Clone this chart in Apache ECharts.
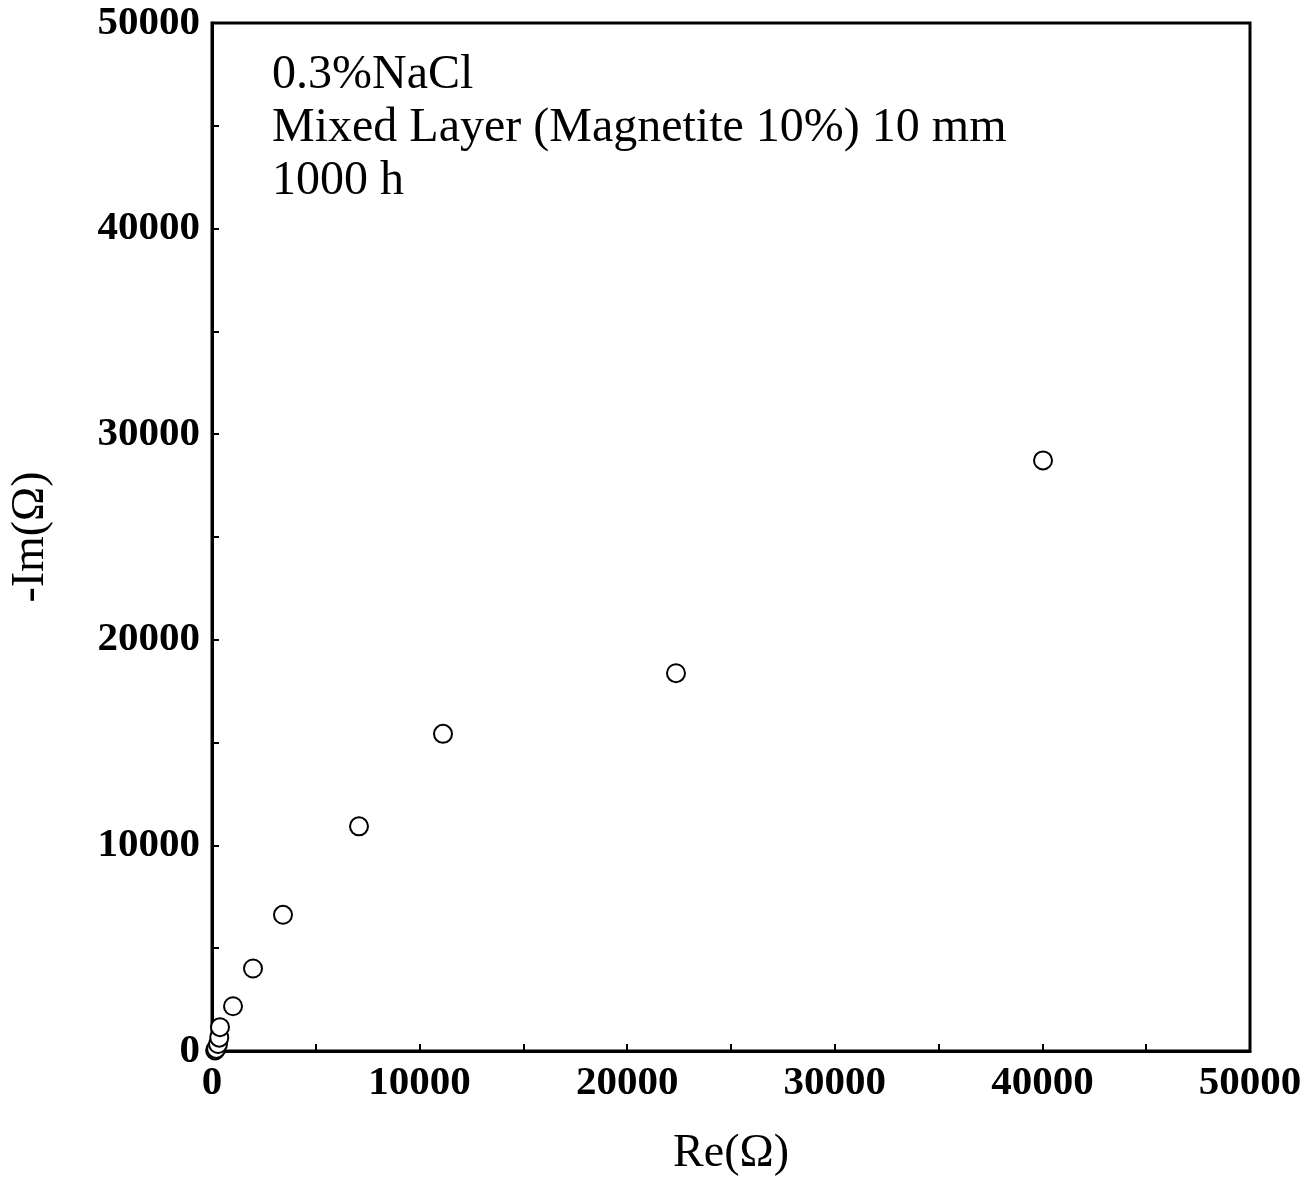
<!DOCTYPE html>
<html><head><meta charset="utf-8">
<script src="https://cdn.jsdelivr.net/npm/echarts@6/dist/echarts.min.js"></script>
<style>html,body{margin:0;padding:0;background:#fff}#c{width:1310px;height:1182px}</style>
</head><body><div id="c"></div>
<script>
const reValues = [150, 200, 290, 350, 385, 1012, 1975, 3420, 7081, 11127, 22350, 40030];
const imValues = [30, 100, 340, 650, 1160, 2176, 4014, 6625, 10928, 15425, 18375, 28725];
const annotation = ['0.3%NaCl', 'Mixed Layer (Magnetite 10%) 10 mm', '1000 h'];
const xName = 'Re(Ω)';
const yName = '-Im(Ω)';

const chart = echarts.init(document.getElementById('c'));
const fmt = v => (v % 10000 === 0 ? String(v) : '');
const serif = '"Liberation Serif", "DejaVu Serif", serif';
chart.setOption({
  animation: false,
  grid: {left: 212, top: 23, right: 60, bottom: 125, show: true, borderColor: '#000', borderWidth: 3},
  xAxis: {
    type: 'value', min: 0, max: 50000, interval: 5000,
    name: xName, nameLocation: 'middle', nameGap: 80,
    nameTextStyle: {fontFamily: serif, fontSize: 46, color: '#000'},
    axisLine: {lineStyle: {color: '#000', width: 3}},
    axisTick: {inside: true, length: 7, lineStyle: {color: '#000', width: 2}},
    axisLabel: {formatter: fmt, fontFamily: serif, fontWeight: 'bold', fontSize: 41, color: '#000', margin: 12},
    splitLine: {show: false}
  },
  yAxis: {
    type: 'value', min: 0, max: 50000, interval: 5000,
    name: yName, nameLocation: 'middle', nameGap: 158, nameRotate: 90,
    nameTextStyle: {fontFamily: serif, fontSize: 46, color: '#000'},
    axisLine: {lineStyle: {color: '#000', width: 3}},
    axisTick: {inside: true, length: 7, lineStyle: {color: '#000', width: 2}},
    axisLabel: {formatter: fmt, fontFamily: serif, fontWeight: 'bold', fontSize: 41, color: '#000', margin: 12},
    splitLine: {show: false}
  },
  graphic: [{
    type: 'text', left: 272, top: 49,
    style: {text: annotation.join('\n'), font: '48px ' + serif, lineHeight: 53, fill: '#000'}
  }],
  series: [{
    type: 'scatter',
    data: reValues.map((x, i) => [x, imValues[i]]),
    symbol: 'circle', symbolSize: 18,
    itemStyle: {color: '#fff', borderColor: '#000', borderWidth: 2, opacity: 1}
  }]
});
</script></body></html>
